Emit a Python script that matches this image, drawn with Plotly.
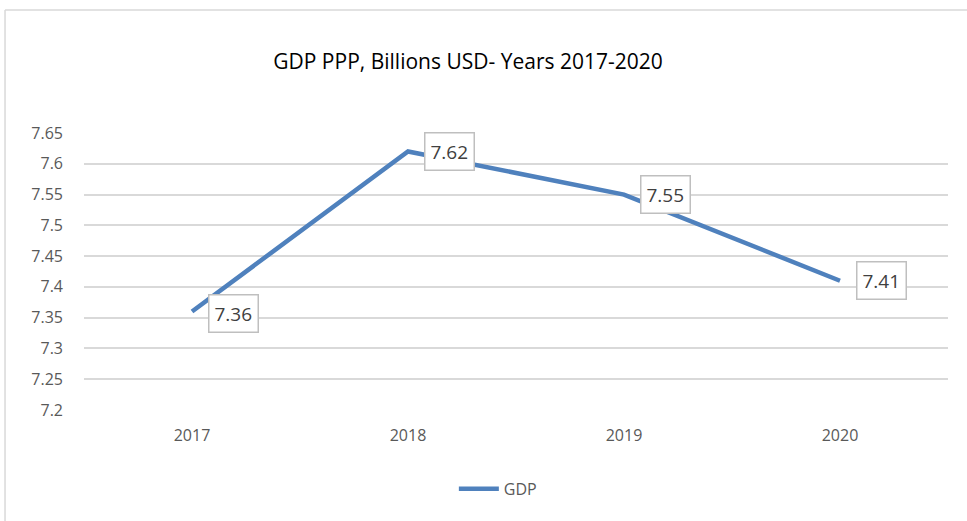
import plotly.graph_objects as go

years = ["2017", "2018", "2019", "2020"]
gdp = [7.36, 7.62, 7.55, 7.41]
y_ticks = [7.2, 7.25, 7.3, 7.35, 7.4, 7.45, 7.5, 7.55, 7.6, 7.65]
y_tick_text = ["7.2", "7.25", "7.3", "7.35", "7.4", "7.45", "7.5", "7.55", "7.6", "7.65"]

line_color = "#4F81BD"
grid_color = "#D9D9D9"
text_color = "#595959"
font_family = "Open Sans"

fig = go.Figure()
fig.add_trace(go.Scatter(
    x=years, y=gdp, mode="lines", name="GDP",
    line=dict(color=line_color, width=4.5),
))

# Value labels in boxed callouts to the right of each point
# (category positions are given by index so "2017" is not read as a number)
for i, v in enumerate(gdp):
    fig.add_annotation(
        x=i, y=v, xref="x", yref="y", text=f"{v:.2f}", showarrow=False,
        xanchor="center", yanchor="middle", xshift=41,
        yshift=-2 if i == 0 else 0,
        font=dict(family=font_family, size=19, color="#404040"),
        bgcolor="white", bordercolor="#BFBFBF", borderwidth=1.5, borderpad=5,
    )

# Light outer chart border (left and top edges)
fig.add_shape(
    type="line", xref="paper", yref="paper",
    x0=-0.0914, x1=-0.0914, y0=-0.6, y1=1.444,
    line=dict(color=grid_color, width=1.5),
)
fig.add_shape(
    type="line", xref="paper", yref="paper",
    x0=-0.0914, x1=1.2, y0=1.444, y1=1.444,
    line=dict(color=grid_color, width=1.5),
)

fig.update_layout(
    template="none",
    width=967, height=521,
    margin=dict(l=84, r=19, t=133, b=111),
    paper_bgcolor="white", plot_bgcolor="rgba(0,0,0,0)",
    title=dict(
        text="GDP PPP, Billions USD- Years 2017-2020",
        x=0.484, xanchor="center", y=1 - 62 / 521, yanchor="middle", yref="container",
        font=dict(family=font_family, size=21, color="#000000"),
    ),
    showlegend=True,
    legend=dict(
        orientation="h", x=0.479, xanchor="center", y=-0.285, yanchor="middle",
        font=dict(family=font_family, size=16, color=text_color),
        itemwidth=40, bgcolor="rgba(0,0,0,0)",
    ),
    xaxis=dict(
        type="category", range=[-0.5, 3.5],
        showgrid=False, zeroline=False, showline=False,
        ticks="", ticklabelstandoff=14,
        tickfont=dict(family=font_family, size=16, color=text_color),
    ),
    yaxis=dict(
        range=[7.2, 7.65], tickvals=y_ticks, ticktext=y_tick_text,
        showgrid=True, gridcolor=grid_color, gridwidth=1.5,
        zeroline=False, showline=False, ticks="", ticklabelstandoff=20,
        tickfont=dict(family=font_family, size=16, color=text_color),
    ),
)

fig.write_html("out.html")
